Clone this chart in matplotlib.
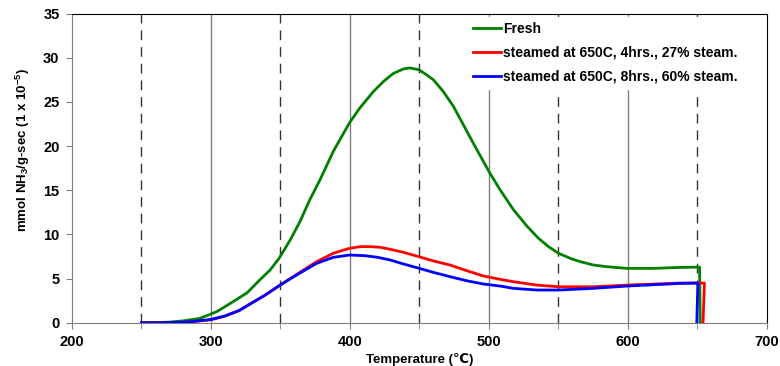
import matplotlib.pyplot as plt
from matplotlib.ticker import MultipleLocator

plt.rcParams['font.family'] = ['Liberation Sans', 'DejaVu Sans']
plt.rcParams['font.weight'] = 'bold'
plt.rcParams['mathtext.fontset'] = 'custom'
plt.rcParams['mathtext.rm'] = 'Liberation Sans:bold'
plt.rcParams['mathtext.it'] = 'Liberation Sans:bold'
plt.rcParams['mathtext.bf'] = 'Liberation Sans:bold'

# datos
t_fresh = [250, 260, 270, 280, 292, 304, 316, 326, 335, 342.5, 349, 357, 364, 371, 378.5,
           388, 399.5, 407, 417, 424, 431, 438.4, 443, 449.5, 455, 460, 467, 474.4, 481.6,
           488.8, 496, 500.8, 508, 517.6, 527.2, 535.6, 542.8, 550, 558.4, 565.6, 575.2,
           584.8, 599.2, 618.3, 637.5, 650, 651.5, 652]
v_fresh = [0.0, 0.02, 0.08, 0.22, 0.5, 1.25, 2.4, 3.4, 4.84, 5.97, 7.3, 9.38, 11.45, 13.9, 16.2,
           19.4, 22.6, 24.3, 26.2, 27.3, 28.2, 28.73, 28.84, 28.65, 28.08, 27.5, 26.2, 24.5, 22.4,
           20.3, 18.25, 16.9, 15.05, 12.8, 10.96, 9.57, 8.62, 7.87, 7.3, 6.92, 6.54,
           6.35, 6.16, 6.16, 6.27, 6.3, 6.3, 0.0]

t_27 = [250, 270, 285, 300, 310, 320, 328, 339, 349.7, 362.8, 376, 388, 399.6, 407.3, 414.5,
        421.7, 428.9, 438.4, 449.7, 460, 472, 484, 496, 508, 517.6, 534.4, 550, 575.2,
        599.2, 618.3, 637.5, 650, 655, 654]
v_27 = [0.0, 0.02, 0.1, 0.35, 0.75, 1.35, 2.12, 3.14, 4.27, 5.6, 6.92, 7.87, 8.43, 8.62, 8.62,
        8.55, 8.32, 7.98, 7.48, 7.0, 6.54, 5.9, 5.3, 4.92, 4.65, 4.27, 4.08, 4.08,
        4.27, 4.38, 4.5, 4.5, 4.5, 0.0]

t_60 = [250, 270, 285, 300, 310, 320, 328, 339, 349.7, 362.8, 376, 388, 399.6, 410.4, 420,
        428.9, 438.4, 449.7, 460, 472, 484, 496, 508, 517.6, 534.4, 550, 575.2,
        599.2, 618.3, 637.5, 650.3, 649.5]
v_60 = [0.0, 0.02, 0.12, 0.38, 0.78, 1.38, 2.12, 3.14, 4.27, 5.52, 6.73, 7.41, 7.67, 7.6, 7.41,
        7.11, 6.66, 6.17, 5.71, 5.22, 4.76, 4.39, 4.16, 3.9, 3.71, 3.71, 3.9,
        4.16, 4.31, 4.46, 4.5, 0.0]

etiquetas = ["Fresh",
             "steamed at 650C, 4hrs., 27% steam.",
             "steamed at 650C, 8hrs., 60% steam."]

fig = plt.figure(figsize=(7.8, 3.66), dpi=100)
ax = fig.add_axes([0.0923, 0.118, 0.891, 0.845])

for x in [300, 400, 500, 600]:
    ax.axvline(x, color="#7f7f7f", lw=1, zorder=1)
for x in [250, 350, 450, 550, 650]:
    ax.axvline(x, color="#333333", lw=1, ls=(0, (7, 5)), zorder=1)

ax.plot(t_fresh, v_fresh, color="#008000", lw=2, label=etiquetas[0], zorder=3)
ax.plot(t_27, v_27, color="#ff0000", lw=2, label=etiquetas[1], zorder=3)
ax.plot(t_60, v_60, color="#0000ff", lw=2, label=etiquetas[2], zorder=4)

ax.set_xlim(200, 700)
ax.set_ylim(0, 35)
ax.xaxis.set_major_locator(MultipleLocator(100))
ax.xaxis.set_minor_locator(MultipleLocator(50))
ax.yaxis.set_major_locator(MultipleLocator(5))
ax.tick_params(axis="both", which="both", direction="out", length=4, color="#7f7f7f",
               labelsize=10.5, pad=5)
for lab in ax.get_xticklabels() + ax.get_yticklabels():
    lab.set_fontweight("bold")

ax.spines["left"].set_color("#7f7f7f")
ax.spines["bottom"].set_color("#7f7f7f")
ax.spines["top"].set_color("black")
ax.spines["right"].set_color("black")

ax.set_xlabel("Temperature (℃)", fontsize=9.5, fontweight="bold", labelpad=3)
ax.set_ylabel(r"mmol NH$_{3}$/g-sec (1 x 10$^{-5}$)", fontsize=9.5, fontweight="bold")
ax.yaxis.set_label_coords(-0.058, 0.56)

leg = ax.legend(loc="upper left", bbox_to_anchor=(0.570, 0.989), frameon=True, fancybox=False,
                edgecolor="white", facecolor="white", framealpha=1, fontsize=10,
                handlelength=2.0, handletextpad=0.15, labelspacing=0.72, borderpad=0.35,
                borderaxespad=0)
for txt in leg.get_texts():
    txt.set_fontweight("bold")
leg.set_zorder(5)

fig.savefig("out.png", dpi=100)
